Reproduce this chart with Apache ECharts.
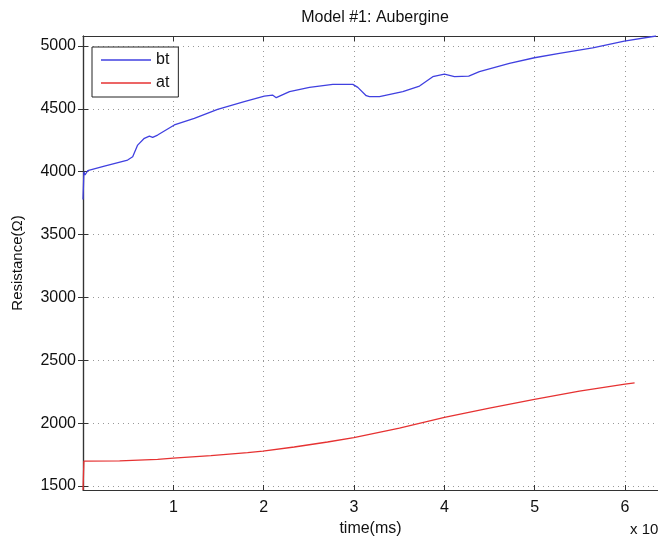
<!DOCTYPE html>
<html>
<head>
<meta charset="utf-8">
<script src="https://cdn.jsdelivr.net/npm/echarts@6/dist/echarts.min.js"></script>
<style>
  html, body { margin: 0; padding: 0; background: #fff; }
  #main { width: 658px; height: 543px; }
</style>
</head>
<body>
<div id="main"></div>
<script>
// bt: [time(ms), resistance]
var btData = [
  [0, 3780], [1000, 4000], [2200, 3974], [5200, 4008], [23700, 4045],
  [49400, 4093], [55000, 4119], [60500, 4212], [67900, 4266], [73500, 4284],
  [77100, 4274], [82600, 4292], [101100, 4372], [123200, 4425], [149000, 4497],
  [178500, 4557], [200700, 4602], [209800, 4610], [213900, 4589], [228600, 4637],
  [250700, 4671], [276500, 4695], [298700, 4695], [304200, 4671], [313500, 4605],
  [317100, 4597], [328200, 4597], [354000, 4637], [372500, 4682], [387200, 4756],
  [400100, 4777], [411200, 4756], [427000, 4761], [438800, 4796], [472000, 4862],
  [499700, 4907], [527300, 4942], [564200, 4986], [599200, 5040], [634300, 5080]
];
// at
var atData = [
  [0, 1468], [1000, 1698], [40600, 1700], [82600, 1712], [100000, 1722],
  [141600, 1742], [182200, 1765], [199100, 1777], [233800, 1810], [270700, 1850],
  [299800, 1885], [350300, 1960], [400100, 2046], [449900, 2120], [499700, 2189],
  [549500, 2255], [600000, 2311], [610600, 2321]
];
var yTicks = [1500, 2000, 2500, 3000, 3500, 4000, 4500, 5000];
var xMin = 0, xMax = 636500, xStep = 100000;
var yMin = 1468, yMax = 5080;

var chart = echarts.init(document.getElementById('main'));
var font = 'Liberation Sans';
var axColor = '#333';
var tick = { show: true, inside: true, length: 5, lineStyle: { color: axColor } };
var split = { show: true, lineStyle: { color: '#999', type: [1, 4], width: 1 } };
var lineIcon = 'path://M0,0L50,0L50,1.3L0,1.3Z';

var option = {
  animation: false,
  title: {
    text: 'Model #1: Aubergine',
    left: 370, top: 5, textAlign: 'center',
    textStyle: { fontFamily: font, fontSize: 16, fontWeight: 'normal', color: '#111' }
  },
  legend: {
    orient: 'vertical', left: 92, top: 47,
    padding: [5, 9, 6, 9],
    itemWidth: 50, itemHeight: 16, itemGap: 7,
    backgroundColor: '#fff', borderColor: '#222', borderWidth: 1,
    textStyle: { fontFamily: font, fontSize: 16, color: '#111' },
    data: [{ name: 'bt', icon: lineIcon }, { name: 'at', icon: lineIcon }]
  },
  grid: { left: 83, right: 0, top: 36, bottom: 53 },
  xAxis: [{
    type: 'value', min: xMin, max: xMax, interval: xStep,
    name: 'time(ms)', nameLocation: 'middle', nameGap: 30,
    nameTextStyle: { fontFamily: font, fontSize: 16, color: '#111' },
    axisLine: { lineStyle: { color: axColor, width: 1.2 } },
    axisTick: tick,
    axisLabel: {
      fontFamily: font, fontSize: 16, color: '#111', margin: 10,
      showMinLabel: false, showMaxLabel: false,
      formatter: function (v) { return String(v / 1e5); }
    },
    splitLine: split
  }, {
    type: 'value', position: 'top', min: xMin, max: xMax, interval: xStep,
    axisLine: { lineStyle: { color: axColor, width: 1.2 } },
    axisTick: tick, axisLabel: { show: false }, splitLine: { show: false }
  }],
  yAxis: [{
    type: 'value', min: yMin, max: yMax,
    name: 'Resistance(Ω)', nameLocation: 'middle', nameGap: 58,
    nameTextStyle: { fontFamily: font, fontSize: 15, color: '#111' },
    axisLine: { show: true, lineStyle: { color: axColor, width: 1.2 } },
    axisTick: { show: true, inside: true, length: 5, lineStyle: { color: axColor }, customValues: yTicks },
    axisLabel: {
      fontFamily: font, fontSize: 16, color: '#111', margin: 7, customValues: yTicks,
      formatter: function (v) { return String(v); }
    },
    splitLine: split
  }, {
    type: 'value', position: 'right', min: yMin, max: yMax,
    axisLine: { show: true, lineStyle: { color: axColor, width: 1.2 } },
    axisTick: { show: true, inside: true, length: 5, lineStyle: { color: axColor }, customValues: yTicks },
    axisLabel: { show: false, customValues: yTicks },
    splitLine: { show: false }
  }],
  graphic: [{
    type: 'text', left: 630, top: 521,
    style: {
      rich: { s: { fontSize: 10, fontFamily: font, verticalAlign: 'top', padding: [0, 0, 8, 0] } },
      text: 'x 10{s|5}', fontFamily: font, fontSize: 15, fill: '#111'
    }
  }],
  series: [{
    name: 'bt', type: 'line', data: btData, symbol: 'none',
    lineStyle: { color: '#4040e0', width: 1.3 }, itemStyle: { color: '#4040e0' }
  }, {
    name: 'at', type: 'line', data: atData, symbol: 'none',
    lineStyle: { color: '#e63232', width: 1.3 }, itemStyle: { color: '#e63232' }
  }]
};
chart.setOption(option);
</script>
</body>
</html>
